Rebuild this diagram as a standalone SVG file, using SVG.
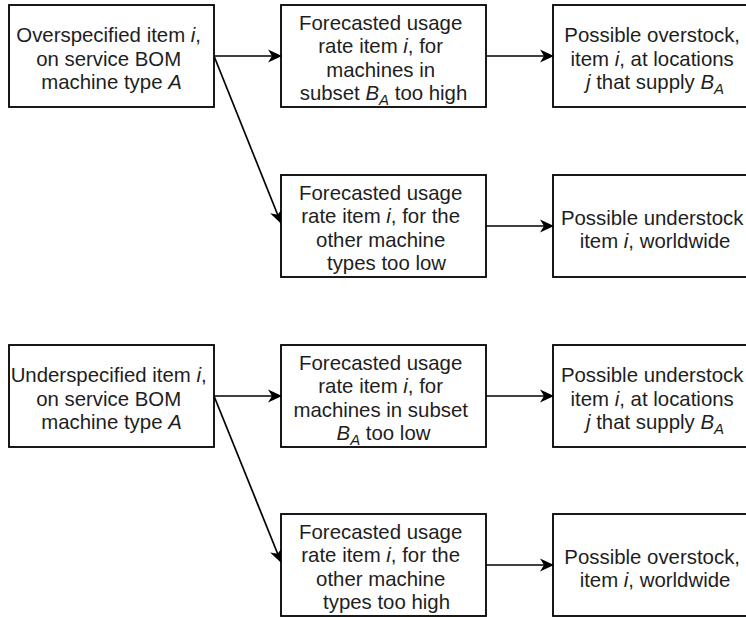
<svg xmlns="http://www.w3.org/2000/svg" width="746" height="617" viewBox="0 0 746 617">
  <style>
    .box { fill: #ffffff; stroke: #000000; stroke-width: 1.8; }
    .lbl { font-family: "Liberation Sans", Arial, Helvetica, sans-serif; font-size: 20.4px; fill: #1e1e1e; text-anchor: middle; }
    .it { font-style: italic; }
    .sub { font-size: 15px; font-style: italic; }
    .edge { fill: none; stroke: #000000; stroke-width: 1.7; marker-end: url(#head); }
  </style>
  <defs>
    <marker id="head" markerUnits="userSpaceOnUse" viewBox="0 0 14 14" refX="13" refY="7" markerWidth="14" markerHeight="14" orient="auto">
      <path d="M0,0.5 L14,7 L0,13.5 L4,7 Z" fill="#000000"/>
    </marker>
  </defs>
  <rect width="746" height="617" fill="#ffffff"/>

  <!-- connectors -->
  <g id="connectors">
    <path class="edge" d="M214,56 L281,56"/>
    <path class="edge" d="M486,56 L553,56"/>
    <path class="edge" d="M214,56 L281,223"/>
    <path class="edge" d="M486,226 L553,226"/>
    <path class="edge" d="M214,396 L281,396"/>
    <path class="edge" d="M486,396 L553,396"/>
    <path class="edge" d="M214,396 L281,562"/>
    <path class="edge" d="M486,565 L553,565"/>
  </g>

  <!-- over-specification chain -->
  <g id="over-spec">
    <rect class="box" x="9" y="5" width="205" height="102"/>
    <text class="lbl">
      <tspan x="111.5" y="42">Overspecified item <tspan class="it">i</tspan>,</tspan>
      <tspan x="111.5" y="65.5">on service BOM</tspan>
      <tspan x="111.5" y="89">machine type <tspan class="it">A</tspan></tspan>
    </text>
  </g>
  <g id="over-rate-subset">
    <rect class="box" x="281" y="5" width="205" height="102"/>
    <text class="lbl">
      <tspan x="383.5" y="29.5">Forecasted usage</tspan>
      <tspan x="383.5" y="53">rate item <tspan class="it">i</tspan>, for</tspan>
      <tspan x="383.5" y="76.5">machines in</tspan>
      <tspan x="383.5" y="100">subset <tspan class="it">B</tspan><tspan class="sub" dy="5">A</tspan><tspan dy="-5"> too high</tspan></tspan>
    </text>
  </g>
  <g id="over-stock-local">
    <rect class="box" x="553" y="5" width="205" height="102"/>
    <text class="lbl">
      <tspan x="655" y="42">Possible overstock,</tspan>
      <tspan x="655" y="65.5">item <tspan class="it">i</tspan>, at locations</tspan>
      <tspan x="655" y="89"><tspan class="it">j</tspan> that supply <tspan class="it">B</tspan><tspan class="sub" dy="5">A</tspan></tspan>
    </text>
  </g>
  <g id="over-rate-other">
    <rect class="box" x="281" y="175" width="205" height="102"/>
    <text class="lbl">
      <tspan x="383.5" y="199.5">Forecasted usage</tspan>
      <tspan x="383.5" y="223">rate item <tspan class="it">i</tspan>, for the</tspan>
      <tspan x="383.5" y="246.5">other machine</tspan>
      <tspan x="386.5" y="270">types too low</tspan>
    </text>
  </g>
  <g id="under-stock-world">
    <rect class="box" x="553" y="175" width="205" height="102"/>
    <text class="lbl">
      <tspan x="655" y="224.5">Possible understock</tspan>
      <tspan x="655" y="248">item <tspan class="it">i</tspan>, worldwide</tspan>
    </text>
  </g>

  <!-- under-specification chain -->
  <g id="under-spec">
    <rect class="box" x="9" y="345" width="205" height="102"/>
    <text class="lbl">
      <tspan x="111.5" y="382">Underspecified item <tspan class="it">i</tspan>,</tspan>
      <tspan x="111.5" y="405.5">on service BOM</tspan>
      <tspan x="111.5" y="429">machine type <tspan class="it">A</tspan></tspan>
    </text>
  </g>
  <g id="under-rate-subset">
    <rect class="box" x="281" y="345" width="205" height="102"/>
    <text class="lbl">
      <tspan x="383.5" y="369.5">Forecasted usage</tspan>
      <tspan x="383.5" y="393">rate item <tspan class="it">i</tspan>, for</tspan>
      <tspan x="383.5" y="416.5">machines in subset</tspan>
      <tspan x="383.5" y="440"><tspan class="it">B</tspan><tspan class="sub" dy="5">A</tspan><tspan dy="-5"> too low</tspan></tspan>
    </text>
  </g>
  <g id="under-stock-local">
    <rect class="box" x="553" y="345" width="205" height="102"/>
    <text class="lbl">
      <tspan x="655" y="382">Possible understock</tspan>
      <tspan x="655" y="405.5">item <tspan class="it">i</tspan>, at locations</tspan>
      <tspan x="655" y="429"><tspan class="it">j</tspan> that supply <tspan class="it">B</tspan><tspan class="sub" dy="5">A</tspan></tspan>
    </text>
  </g>
  <g id="under-rate-other">
    <rect class="box" x="281" y="514" width="205" height="102"/>
    <text class="lbl">
      <tspan x="383.5" y="538.5">Forecasted usage</tspan>
      <tspan x="383.5" y="562">rate item <tspan class="it">i</tspan>, for the</tspan>
      <tspan x="383.5" y="585.5">other machine</tspan>
      <tspan x="386.5" y="609">types too high</tspan>
    </text>
  </g>
  <g id="over-stock-world">
    <rect class="box" x="553" y="514" width="205" height="102"/>
    <text class="lbl">
      <tspan x="655" y="563.5">Possible overstock,</tspan>
      <tspan x="655" y="587">item <tspan class="it">i</tspan>, worldwide</tspan>
    </text>
  </g>
</svg>
